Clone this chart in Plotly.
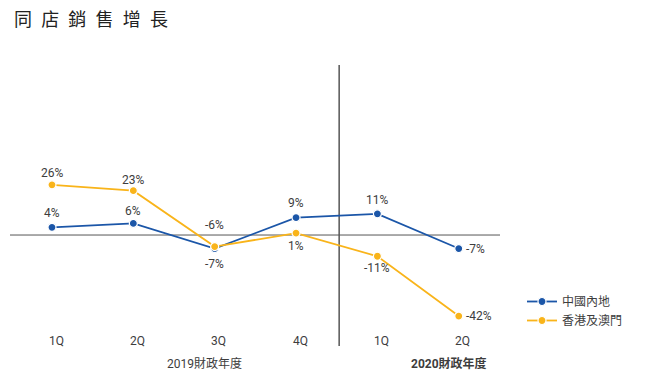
import plotly.graph_objects as go

quarters = ["1Q", "2Q", "3Q", "4Q", "1Q", "2Q"]
mainland = [4, 6, -7, 9, 11, -7]
hkmacau = [26, 23, -6, 1, -11, -42]
series_names = ["中國內地", "香港及澳門"]
fy_labels = ["2019財政年度", "2020財政年度"]
title_text = "同\u2002店\u2002銷\u2002售\u2002增\u2002長"

# label placement (vertical offset in px, positive = up; "r" = right of point)
mainland_lbl = [14, 12, -15, 15, 14, "r"]
hkmacau_lbl = [12, 11, 22, -13, -12, "r"]

BLUE = "#1b56a8"
ORANGE = "#f9b41a"
TXT = "#3d3d3d"
FONT = "Roboto, 'Noto Sans CJK TC', sans-serif"
FS = 12

xs = list(range(len(quarters)))

fig = go.Figure()
for name, vals, col in [(series_names[0], mainland, BLUE), (series_names[1], hkmacau, ORANGE)]:
    fig.add_trace(go.Scatter(
        x=xs, y=vals, name=name, mode="lines+markers",
        line=dict(color=col, width=1.8),
        marker=dict(color=col, size=8, line=dict(color="white", width=1.2)),
        cliponaxis=False,
    ))

# zero line and fiscal year divider
fig.add_shape(type="line", xref="paper", yref="y", x0=0, x1=1, y0=0, y1=0,
              line=dict(color="#555555", width=1), layer="below")
fig.add_shape(type="line", xref="x", yref="paper", x0=3.53, x1=3.53, y0=0, y1=1,
              line=dict(color="#555555", width=1.5), layer="below")

annotations = []
for vals, offs in [(mainland, mainland_lbl), (hkmacau, hkmacau_lbl)]:
    for i, (v, o) in enumerate(zip(vals, offs)):
        a = dict(x=i, y=v, xref="x", yref="y", text=f"{v}%", showarrow=False,
                 font=dict(size=FS, color=TXT, family=FONT), yanchor="middle")
        if o == "r":
            a.update(xanchor="left", xshift=5)
        else:
            a.update(xanchor="center", yshift=o)
        annotations.append(a)

for i, q in enumerate(quarters):
    annotations.append(dict(x=i + 0.05, y=(346 - 340.5) / 281, xref="x", yref="paper", text=q,
                            showarrow=False, xanchor="center", yanchor="middle",
                            font=dict(size=FS, color=TXT, family=FONT)))
annotations.append(dict(x=1.88, y=(346 - 363) / 281, xref="x", yref="paper", text=fy_labels[0],
                        showarrow=False, xanchor="center", yanchor="middle",
                        font=dict(size=FS, color=TXT, family=FONT)))
annotations.append(dict(x=4.88, y=(346 - 363) / 281, xref="x", yref="paper", text=f"<b>{fy_labels[1]}</b>",
                        showarrow=False, xanchor="center", yanchor="middle",
                        font=dict(size=FS, color=TXT, family=FONT)))
annotations.append(dict(x=(12 - 10) / 490, y=(346 - 19) / 281, xref="paper", yref="paper",
                        text=title_text, showarrow=False, xanchor="left", yanchor="middle",
                        font=dict(size=18, color="#222222", family=FONT)))

# page body has an 8px margin; shift the figure accordingly
fig.update_layout(
    width=639, height=373,
    margin=dict(l=2, r=147, t=57, b=35, autoexpand=False),
    paper_bgcolor="white", plot_bgcolor="white",
    xaxis=dict(range=[-0.516, 5.507], visible=False, fixedrange=True),
    yaxis=dict(range=[-57.5, 88.1], visible=False, fixedrange=True),
    showlegend=True,
    legend=dict(x=(522 - 10) / 490, y=(346 - 287) / 281, xanchor="left", yanchor="top",
                font=dict(size=FS, color=TXT, family=FONT),
                itemwidth=30, tracegroupgap=2, bgcolor="rgba(0,0,0,0)"),
    annotations=annotations,
    font=dict(family=FONT),
)

fig.write_html("out.html")
